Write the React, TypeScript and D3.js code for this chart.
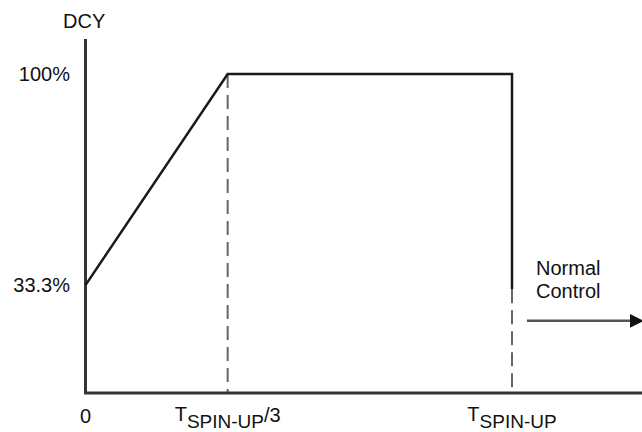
import React from "react";
import * as d3 from "d3";

// time in units of T_SPIN-UP, duty cycle in %
const profileX = [0, 1 / 3, 1, 1];
const profileY = [33.3, 100, 100, 32];
const guideX = [1 / 3, 1];
const guideTop = [100, 32];
const yTickValues = [100, 33.3];
const yTickLabels = ["100%", "33.3%"];
const arrowX = [1.035, 1.31];
const arrowY = [22, 22];
const noteLines = ["Normal", "Control"];

const W = 642;
const H = 432;
const FONT = "'Liberation Sans', Arial, Helvetica, sans-serif";

export default function App() {
  const x = d3.scaleLinear().domain([0, 1]).range([85.5, 512]);
  const y = d3.scaleLinear().domain([0, 100]).range([390.5, 74]);
  const axisY = 393;
  const axisTop = 39;

  const line = d3
    .line<number>()
    .x((_, i) => x(profileX[i]))
    .y((d) => y(d));

  return (
    <svg
      width={W}
      height={H}
      style={{ position: "absolute", left: 0, top: 0, background: "#fff" }}
      fontFamily={FONT}
    >
      <defs>
        <marker
          id="ah"
          viewBox="0 0 10 10"
          refX="6"
          refY="5"
          markerWidth="5.5"
          markerHeight="7"
          markerUnits="strokeWidth"
          orient="auto"
        >
          <path d="M0,0 L10,5 L0,10 Z" fill="#111" />
        </marker>
      </defs>

      {/* guide dashed lines */}
      {guideX.map((g, i) => (
        <line
          key={i}
          x1={x(g)}
          x2={x(g)}
          y1={y(guideTop[i])}
          y2={axisY}
          stroke="#666"
          strokeWidth={2}
          strokeDasharray="14,7"
        />
      ))}

      {/* axes */}
      <path
        d={`M${x(0)},${axisTop} L${x(0)},${axisY} L${W},${axisY}`}
        fill="none"
        stroke="#333"
        strokeWidth={3}
      />

      {/* profile */}
      <path d={line(profileY) || ""} fill="none" stroke="#1a1a1a" strokeWidth={2.5} />

      {/* arrow */}
      <line
        x1={x(arrowX[0])}
        y1={y(arrowY[0])}
        x2={x(arrowX[1]) - 6}
        y2={y(arrowY[1])}
        stroke="#555"
        strokeWidth={2.5}
        markerEnd="url(#ah)"
      />

      {/* labels */}
      <text x={63} y={28} fontSize={20} fill="#111">
        DCY
      </text>
      {yTickValues.map((v, i) => (
        <text
          key={i}
          x={70}
          y={y(v)}
          dy="0.35em"
          fontSize={20}
          textAnchor="end"
          fill="#111"
        >
          {yTickLabels[i]}
        </text>
      ))}
      <text x={x(0)} y={423} fontSize={20} textAnchor="middle" fill="#111">
        0
      </text>
      <text x={x(1 / 3)} y={421} fontSize={20} textAnchor="middle" fill="#111">
        T
        <tspan dy={7} fontSize={19}>
          SPIN-UP
        </tspan>
        <tspan dy={-6}>/3</tspan>
      </text>
      <text x={x(1)} y={421} fontSize={20} textAnchor="middle" fill="#111">
        T
        <tspan dy={7} fontSize={19}>
          SPIN-UP
        </tspan>
      </text>
      {noteLines.map((t, i) => (
        <text key={i} x={536} y={275 + i * 23} fontSize={20} fill="#111">
          {t}
        </text>
      ))}
    </svg>
  );
}
